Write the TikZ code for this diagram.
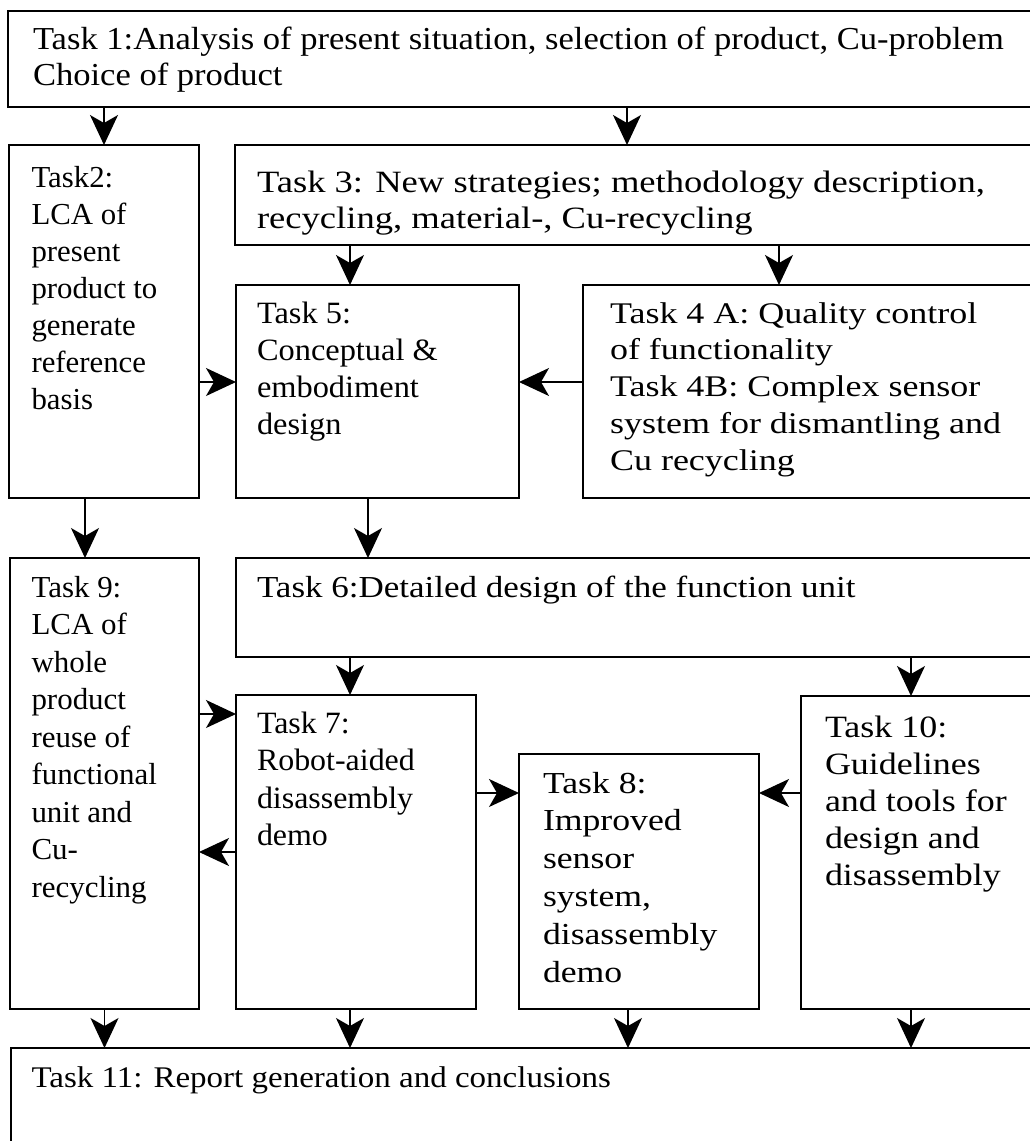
\documentclass[tikz,border=0pt]{standalone}
\usepackage{fontspec}
\setmainfont{Liberation Serif}
\usetikzlibrary{arrows.meta}

\begin{document}
\begin{tikzpicture}[x=1pt,y=-1pt,
  box/.style={draw, line width=1.8pt, rectangle, inner sep=0pt, outer sep=0pt, anchor=north west},
  txt/.style={anchor=north west, inner sep=0pt, outer sep=0pt, align=left},
  tf/.style n args={3}{font={\addfontfeatures{FakeStretch=#2}\fontsize{#1}{#3}\selectfont}},
  arr/.style={line width=1.4pt, -{Stealth[length=30pt,width=28pt,inset=8pt]}},
]
\useasboundingbox (0,0) rectangle (1030,1141);
\fill[white] (0,0) rectangle (1030,1141);
\begin{scope}
\clip (0,0) rectangle (1030,1141);

% task boxes
\node[box, minimum width=1042pt, minimum height=96pt]  (t1)  at (8,11) {};
\node[box, minimum width=190pt,  minimum height=353pt] (t2)  at (9,145) {};
\node[box, minimum width=815pt,  minimum height=100pt] (t3)  at (235,145) {};
\node[box, minimum width=283pt,  minimum height=213pt] (t5)  at (236,285) {};
\node[box, minimum width=467pt,  minimum height=213pt] (t4)  at (583,285) {};
\node[box, minimum width=189pt,  minimum height=451pt] (t9)  at (10,558) {};
\node[box, minimum width=814pt,  minimum height=99pt]  (t6)  at (236,558) {};
\node[box, minimum width=240pt,  minimum height=314pt] (t7)  at (236,695) {};
\node[box, minimum width=240pt,  minimum height=255pt] (t8)  at (519,754) {};
\node[box, minimum width=249pt,  minimum height=313pt] (t10) at (801,696) {};
\node[box, minimum width=1039pt, minimum height=122pt] (t11) at (11,1048) {};

% box texts (first baseline = y + 0.7 baselineskip)
\node[txt, tf={32}{1.08}{36}] (x1) at (33,{49-25.2})
  {\strut Task 1:Analysis of present situation, selection of product, Cu-problem\\Choice of product};
\node[txt, tf={30.5}{1.01}{37}] (x2) at (31.5,{187-25.9})
  {\strut Task2:\\LCA of\\present\\product to\\generate\\reference\\basis};
\node[txt, tf={31}{1.18}{36}] (x3) at (257,{192-25.2})
  {\strut Task 3: New strategies; methodology description,\\recycling, material-, Cu-recycling};
\node[txt, tf={31}{1.045}{37}] (x5) at (257,{323-25.9})
  {\strut Task 5:\\Conceptual \&\\embodiment\\design};
\node[txt, tf={30}{1.2}{36.8}] (x4) at (610,{323-25.76})
  {\strut Task 4 A: Quality control\\of functionality\\Task 4B: Complex sensor\\system for dismantling and\\Cu recycling};
\node[txt, tf={30.5}{1.148}{37}] (x6) at (257,{597-25.9})
  {\strut Task 6:Detailed design of the function unit};
\node[txt, tf={30.5}{1.015}{37.5}] (x9) at (31.5,{597-26.25})
  {\strut Task 9:\\LCA of\\whole\\product\\reuse of\\functional\\unit and\\Cu-\\recycling};
\node[txt, tf={31}{1.03}{37.5}] (x7) at (257,{733-26.25})
  {\strut Task 7:\\Robot-aided\\disassembly\\demo};
\node[txt, tf={30.5}{1.17}{37.8}] (x8) at (543,{793-26.46})
  {\strut Task 8:\\Improved\\sensor\\system,\\disassembly\\demo};
\node[txt, tf={31}{1.16}{37}] (x10) at (825,{737-25.9})
  {\strut Task 10:\\Guidelines\\and tools for\\design and\\disassembly};
\node[txt, tf={30}{1.1}{37}] (x11) at (31.5,{1087-25.9})
  {\strut Task 11: Report generation and conclusions};

% connector positions
\coordinate (v85)  at (85,0);
\coordinate (v350) at (350,0);
\coordinate (v368) at (368,0);
\coordinate (v627) at (627,0);
\coordinate (v628) at (628,0);
\coordinate (v779) at (779,0);
\coordinate (v911) at (911,0);
\coordinate (h382) at (0,382);
\coordinate (h714) at (0,714);
\coordinate (h793) at (0,793);
\coordinate (h852) at (0,852);

% connectors
\draw[arr] (t1.south -| t2.north) -- (t2.north);
\draw[arr] (t1.south -| v627) -- (t3.north -| v627);
\draw[arr] (t3.south -| v350) -- (t5.north -| v350);
\draw[arr] (t3.south -| v779) -- (t4.north -| v779);
\draw[arr] (t2.east |- h382) -- (t5.west |- h382);
\draw[arr] (t4.west |- h382) -- (t5.east |- h382);
\draw[arr] (t2.south -| v85) -- (t9.north -| v85);
\draw[arr] (t5.south -| v368) -- (t6.north -| v368);
\draw[arr] (t6.south -| v350) -- (t7.north -| v350);
\draw[arr] (t6.south -| v911) -- (t10.north -| v911);
\draw[arr] (t9.east |- h714) -- (t7.west |- h714);
\draw[arr] (t7.west |- h852) -- (t9.east |- h852);
\draw[arr] (t7.east |- h793) -- (t8.west |- h793);
\draw[arr] (t10.west |- h793) -- (t8.east |- h793);
\draw[arr] (t9.south) -- (t11.north -| t9.south);
\draw[arr] (t7.south -| v350) -- (t11.north -| v350);
\draw[arr] (t8.south -| v628) -- (t11.north -| v628);
\draw[arr] (t10.south -| v911) -- (t11.north -| v911);
\end{scope}
\end{tikzpicture}
\end{document}
